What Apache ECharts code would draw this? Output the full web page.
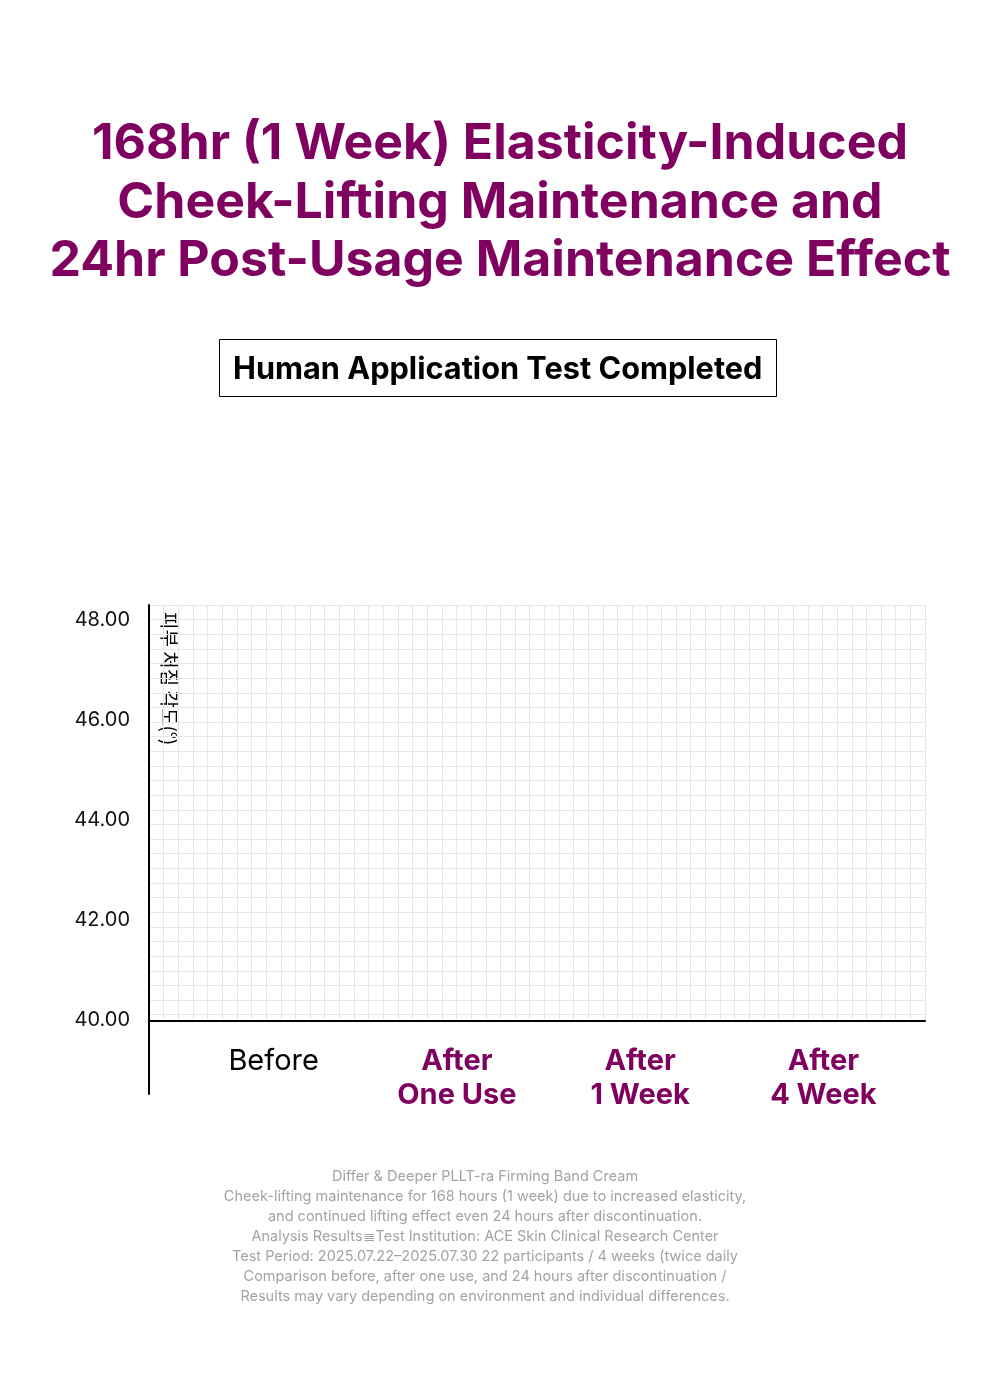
<!DOCTYPE html>
<html>
<head>
<meta charset="utf-8">
<title>168hr Elasticity-Induced Cheek-Lifting</title>
<script src="https://cdn.jsdelivr.net/npm/echarts@6/dist/echarts.min.js"></script>
<style>
	html, body { margin: 0; padding: 0; background: #fff; }
	#chart { width: 1000px; height: 1395px; }
</style>
</head>
<body>
<div id="chart"></div>
<script>
	// 데이터
	var categories = ['Before', 'After\nOne Use', 'After\n1 Week', 'After\n4 Week'];
	var values = [null, null, null, null]; // 그래프에 막대 없음
	var yMin = 40;
	var yMax = 48;
	var yStep = 2;
	var footerLines = [
		'Differ & Deeper PLLT-ra Firming Band Cream',
		'Cheek-lifting maintenance for 168 hours (1 week) due to increased elasticity,',
		'and continued lifting effect even 24 hours after discontinuation.',
		'Analysis Results\u2263Test Institution: ACE Skin Clinical Research Center',
		'Test Period: 2025.07.22\u20132025.07.30 22 participants / 4 weeks (twice daily',
		'Comparison before, after one use, and 24 hours after discontinuation /',
		'Results may vary depending on environment and individual differences.'
	];

	var purple = '#7f005f';
	var font = 'Inter, "Noto Sans", sans-serif';
	var gridColor = '#e6e6e6';

	var chart = echarts.init(document.getElementById('chart'));

	var option = {
		backgroundColor: '#fff',
		textStyle: { fontFamily: font },
		title: [
			{
				text: '168hr (1 Week) Elasticity-Induced\nCheek-Lifting Maintenance and\n24hr Post-Usage Maintenance Effect',
				left: 'center',
				top: 115,
				padding: 0,
				textStyle: { fontFamily: font, fontSize: 50, fontWeight: 'bold', lineHeight: 58.5, color: purple }
			},
			{
				text: 'Human Application Test Completed',
				left: 219,
				top: 339,
				padding: [12, 14, 9, 14],
				borderColor: '#000',
				borderWidth: 1,
				textStyle: { fontFamily: font, fontSize: 30.7, fontWeight: 'bold', lineHeight: 37, color: '#000' }
			}
		],
		grid: [
			// 배경 격자
			{ left: 149, top: 605, width: 776, height: 416 },
			// 왼쪽 세로선
			{ left: 149, top: 605, width: 776, height: 489 },
			// 데이터 영역
			{ left: 182, top: 620, width: 733, height: 400 }
		],
		xAxis: [
			{
				gridIndex: 0, type: 'value', min: 0, max: 53, interval: 1,
				axisLine: { show: true, onZero: false, lineStyle: { color: '#000', width: 2 } },
				axisTick: { show: false }, axisLabel: { show: false },
				splitLine: { show: true, lineStyle: { color: gridColor, width: 1 } }
			},
			{
				gridIndex: 1, type: 'value', min: 0, max: 1, show: false
			},
			{
				gridIndex: 2, type: 'category', data: categories,
				axisLine: { show: false }, axisTick: { show: false },
				splitLine: { show: false },
				axisLabel: {
					margin: 24,
					verticalAlign: 'top',
					formatter: function (val, idx) {
						var tag = idx === 0 ? 'a' : 'b';
						return val.split('\n').map(function (s) { return '{' + tag + '|' + s + '}'; }).join('\n');
					},
					rich: {
						a: { fontFamily: font, fontSize: 29, lineHeight: 34, color: '#000' },
						b: { fontFamily: font, fontSize: 29, lineHeight: 34, fontWeight: 'bold', color: purple }
					}
				}
			}
		],
		yAxis: [
			{
				gridIndex: 0, type: 'value', inverse: true, min: 0, max: 416 / 14.63, interval: 1,
				axisLine: { show: false }, axisTick: { show: false }, axisLabel: { show: false },
				splitLine: { show: true, lineStyle: { color: gridColor, width: 1 } }
			},
			{
				gridIndex: 1, type: 'value', min: 0, max: 1,
				axisLine: { show: true, lineStyle: { color: '#000', width: 2 } },
				axisTick: { show: false }, axisLabel: { show: false }, splitLine: { show: false }
			},
			{
				gridIndex: 2, type: 'value', min: yMin, max: yMax, interval: yStep,
				axisLine: { show: false }, axisTick: { show: false }, splitLine: { show: false },
				axisLabel: {
					margin: 52,
					fontFamily: font, fontSize: 20, color: '#111',
					formatter: function (v) { return v.toFixed(2); }
				}
			}
		],
		series: [
			{
				type: 'bar',
				xAxisIndex: 2,
				yAxisIndex: 2,
				data: values,
				itemStyle: { color: purple }
			}
		],
		graphic: [
			{
				type: 'text',
				x: 169,
				y: 612,
				rotation: -Math.PI / 2,
				style: {
					text: '피부 처짐 각도(°)',
					font: '19px "Noto Sans CJK KR", sans-serif',
					fill: '#000',
					align: 'left',
					verticalAlign: 'middle'
				}
			},
			{
				type: 'text',
				x: 485,
				y: 1167,
				style: {
					text: footerLines.join('\n'),
					font: '14.5px Inter, "Noto Sans", sans-serif',
					lineHeight: 20,
					fill: '#a3a3a3',
					align: 'center',
					verticalAlign: 'top'
				}
			}
		]
	};

	chart.setOption(option);
	window.addEventListener('resize', function () {
		chart.resize();
	});
</script>
</body>
</html>
